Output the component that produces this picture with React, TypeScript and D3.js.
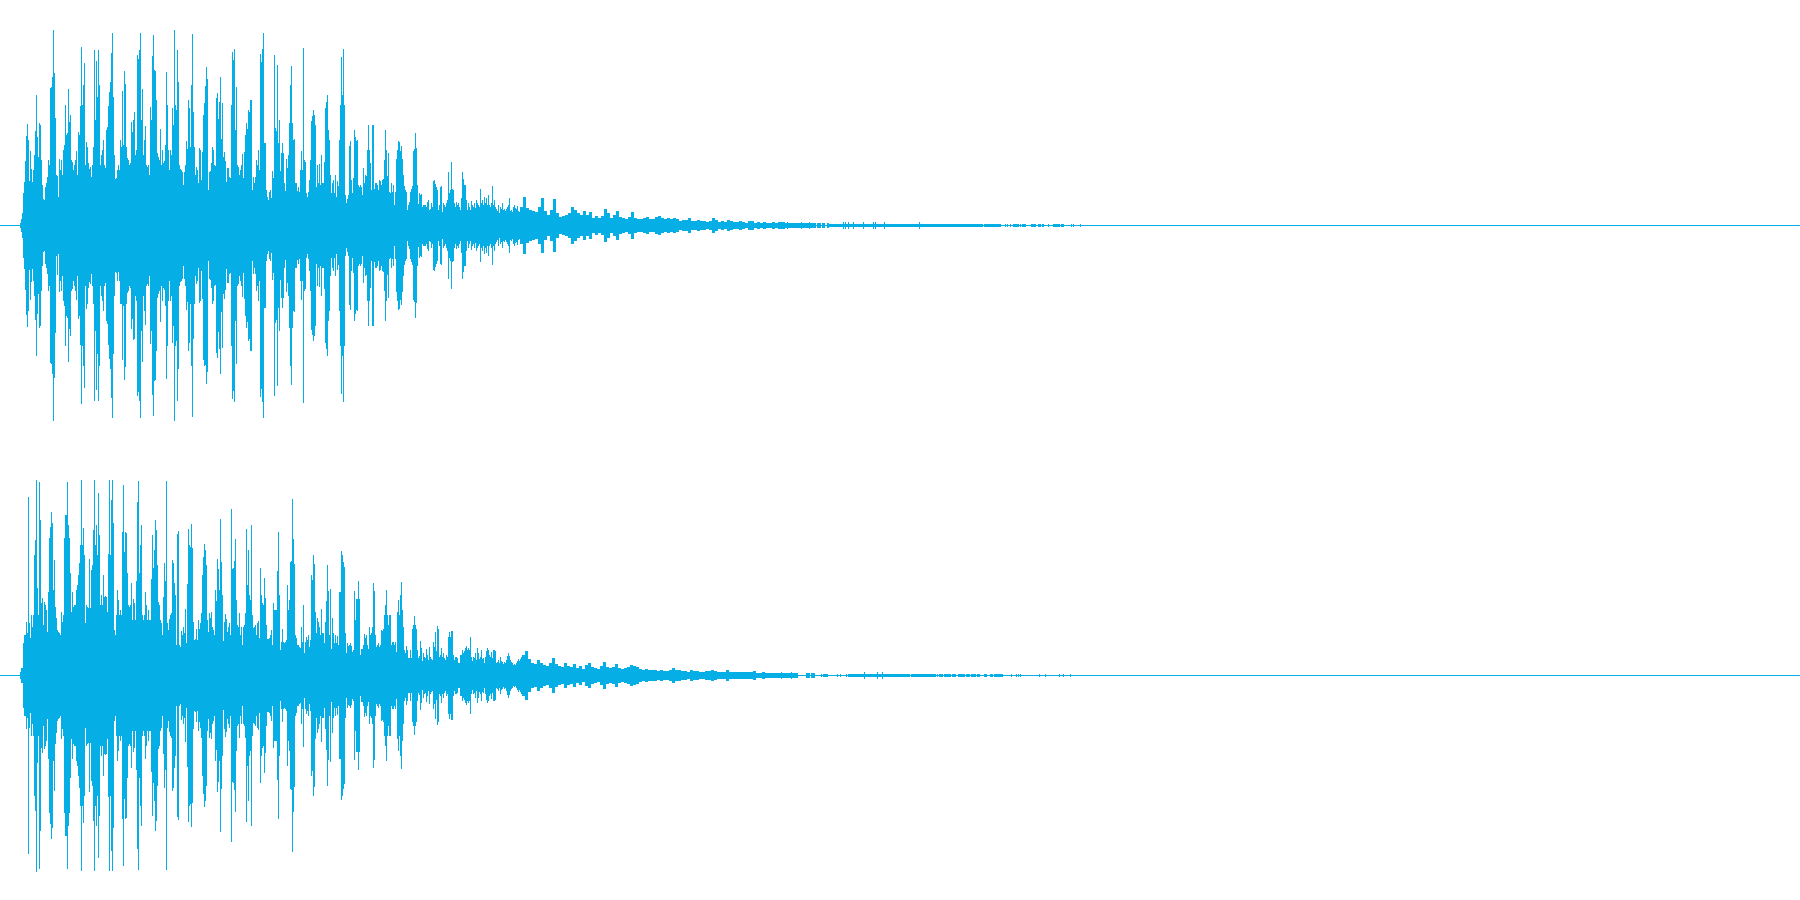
import React from "react";
import * as d3 from "d3";

const WIDTH = 1800;
const HEIGHT = 900;
const COLOR = "#06aee6";
const FIRST_BIN = 20;
const TAIL_BIN_CH1 = 520;
const TAIL_BIN_CH2 = 522;
const TAIL_STEP = 3;

const ch1Amp = [
  2,6,12,32,43,64,89,101,85,44,
  74,56,43,55,70,94,130,88,68,102,
  100,65,40,26,25,38,42,48,65,60,
  137,138,148,195,152,107,50,49,28,66,
  55,65,50,75,80,120,90,92,136,103,
  110,65,63,55,60,65,74,50,93,90,
  119,178,120,140,162,60,83,78,62,56,
  58,48,60,78,175,105,164,128,175,140,
  60,70,75,85,60,57,95,98,119,133,
  143,172,192,128,70,46,47,55,60,55,
  85,78,134,80,154,141,78,67,65,60,
  62,103,93,105,113,70,75,170,166,175,
  192,105,136,70,85,99,60,58,60,50,
  118,105,169,190,155,154,125,72,68,65,
  96,60,75,62,64,80,153,120,75,55,
  75,70,117,100,195,120,115,175,143,60,
  56,55,53,40,53,60,84,76,125,117,
  78,140,191,113,78,50,58,55,42,77,
  75,45,73,110,122,139,158,146,35,53,
  54,62,78,75,60,59,127,132,106,123,
  148,86,122,68,73,64,43,57,57,48,
  47,120,173,165,176,95,138,60,58,50,
  55,60,71,47,73,90,102,96,115,113,
  125,125,35,48,42,48,65,60,75,55,
  171,163,176,192,82,82,35,28,25,33,
  35,27,54,47,170,97,94,160,82,105,
  54,72,82,72,42,34,66,57,70,102,
  140,159,102,85,86,42,42,34,38,33,
  55,74,55,177,65,63,32,28,33,45,
  65,104,109,115,110,100,38,60,42,61,
  40,70,42,42,63,117,123,130,95,85,
  50,32,42,45,32,50,28,44,39,85,
  120,168,130,176,120,30,22,26,30,79,
  84,45,32,47,95,88,84,85,40,38,
  40,38,30,57,42,50,49,75,100,75,
  62,35,100,100,36,42,42,40,35,45,
  44,40,45,46,65,95,75,49,72,33,
  32,42,33,40,20,33,66,75,84,83,
  74,79,66,50,39,35,33,15,20,23,
  33,36,39,74,76,92,77,40,21,32,
  30,31,18,20,20,20,18,23,25,15,
  16,22,18,44,45,41,38,35,15,20,
  38,39,13,22,20,18,22,25,53,32,
  35,63,36,35,22,18,23,20,22,18,
  15,27,53,46,40,40,25,15,22,18,
  15,24,20,18,22,17,25,22,20,18,
  36,22,25,20,28,22,27,20,30,20,
  18,22,39,20,25,18,16,14,20,12,
  18,16,22,15,16,14,16,18,20,27,
  14,15,13,18,20,17,16,19,14,13,
];

const ch1Tail = [
  18,28,17,15,14,13,18,27,14,10,15,26,12,8,9,10,12,18,15,12,10,14,10,13,7,9,7,9,16,12,
  7,10,14,8,7,6,8,13,7,6,6,7,8,6,6,8,9,7,6,7,6,7,6,4,5,5,7,4,4,5,
  4,4,3,4,7,5,3,4,3,5,4,3,3,4,3,2,4,4,2,3,2,3,2,2,3,2,3,3,2,2,2,2,2,2,
];

const ch1LowOverride = [[56,30],[118,46],[120,78],[133,114],[203,134],[204,140],[220,148]];

const ch1Runs = [
  [802,815,2],[817,820,2],[822,824,2],[827,828,2],[827,962,1],
  [963,979,1],[980,982,1],[984,994,1],[995,999,1],[1000,1000,1],[1005,1005,1],[1007,1007,1],
  [1010,1010,1],[1013,1017,1],[1018,1018,1],[1020,1020,1],[1022,1025,1],[1031,1035,1],
  [1038,1040,1],[1042,1042,1],[1043,1043,1],[1048,1048,1],[1053,1055,1],[1056,1059,1],
  [1061,1063,1],[1071,1071,1],[1073,1073,1],[1080,1080,1],
];

const ch1Stubs = [781,784,787,801,809,843,845,848,853,863,873,875,884,919];

const ch2Amp = [
  3,7,7,32,40,40,53,42,178,52,
  37,60,48,60,120,135,195,87,60,193,
  155,72,77,50,73,70,65,43,83,137,
  148,163,152,85,115,68,57,45,43,42,
  40,63,53,60,137,160,160,193,150,137,
  102,63,83,68,70,70,85,90,100,112,
  130,195,130,147,120,52,70,68,67,116,
  67,105,110,145,195,130,150,120,182,140,
  70,80,70,100,78,79,78,63,121,195,
  120,175,195,152,45,40,60,85,75,60,
  65,60,143,190,123,143,142,102,70,68,
  70,92,55,76,72,55,94,173,194,102,
  130,150,60,55,60,83,70,55,65,55,
  55,96,140,107,125,155,145,110,73,70,
  55,52,40,78,112,94,194,52,45,56,
  60,62,115,112,92,80,30,141,144,30,
  28,44,40,48,42,66,32,91,146,130,
  128,151,127,53,35,36,46,35,55,46,
  52,62,100,118,131,125,110,55,43,62,
  57,63,48,45,40,85,74,116,106,85,
  156,113,80,34,53,61,56,43,48,52,
  40,166,106,107,114,136,75,50,48,62,
  40,48,30,48,50,62,146,90,125,80,
  75,150,60,47,48,50,40,52,54,37,
  107,80,72,70,97,77,50,36,36,37,
  40,45,30,72,65,65,65,104,143,80,
  25,33,46,33,32,33,35,90,65,75,
  113,114,176,136,111,40,37,30,30,28,
  27,48,33,70,22,33,38,35,40,28,
  35,100,95,120,111,63,42,57,53,48,
  40,66,42,42,32,53,74,110,84,40,
  86,26,57,42,32,40,32,39,30,83,
  83,124,120,113,108,42,22,32,29,30,
  32,29,23,25,84,55,76,76,94,76,
  20,26,26,30,41,37,40,30,26,48,
  40,42,48,92,84,40,28,30,32,28,
  30,45,44,46,60,70,85,60,50,60,
  60,30,33,33,30,33,23,63,75,60,
  80,93,65,48,25,22,29,25,17,17,
  25,17,46,50,59,50,46,25,17,19,
  34,27,14,22,18,17,26,20,15,28,
  18,16,15,33,28,43,24,49,46,18,
  20,27,18,22,17,15,20,18,38,43,
  38,44,44,20,15,18,18,17,12,12,
  20,20,25,22,24,27,29,25,27,25,
  38,18,14,18,17,22,15,27,22,16,
  18,25,16,17,12,18,24,27,25,20,
  18,23,17,25,25,24,12,13,15,12,
  18,14,13,11,13,12,15,19,22,19,
  15,13,12,10,11,10,12,14,16,14,
  16,18,
];

const ch2Tail = [
  20,24,16,12,11,15,12,10,9,12,17,11,9,8,12,9,8,11,7,9,6,10,12,8,7,6,
  9,13,8,7,8,11,7,6,7,8,10,9,8,6,5,6,5,5,5,4,5,4,4,5,7,5,5,4,4,3,
  5,4,4,3,3,4,4,5,4,3,3,3,5,3,3,3,3,3,3,3,3,4,
  2,2,3,2,2,2,2,2,2,2,2,2,2,2,
];

const ch2LowOverride = [[303,71],[36,196],[23,32]];

const ch2Runs = [
  [806,809,2],[811,814,2],[821,821,1],[823,823,1],[824,827,1],[837,837,1],[840,840,1],
  [846,846,1],[848,848,1],[849,908,1],[909,909,1],[911,914,1],[915,935,1],[937,937,1],
  [939,942,1],[944,950,1],[952,955,1],[958,964,1],[966,969,1],[971,975,1],[977,979,1],
  [984,986,1],[990,992,1],[994,994,1],[995,997,1],[998,1002,1],[1011,1011,1],[1016,1016,1],
  [1018,1018,1],[1020,1020,1],[1039,1039,1],[1045,1045,1],[1059,1059,1],[1063,1063,1],[1070,1070,1],
];

const ch2Stubs = [781,791,864,877,882];

type Col = { bin: number; width: number; up: number; down: number };

function buildColumns(
  amp: number[], tail: number[], tailStart: number, low: number[][], runs: number[][], stubs: number[],
): Col[] {
  const lowMap = new Map(low.map(([b, v]) => [b, v]));
  const cols: Col[] = [];
  amp.forEach((a, i) => {
    const bin = FIRST_BIN + i;
    cols.push({ bin, width: 1, up: a, down: lowMap.get(bin) ?? a });
  });
  tail.forEach((a, i) => {
    cols.push({ bin: tailStart + i * TAIL_STEP, width: TAIL_STEP, up: a, down: a });
  });
  runs.forEach(([s, e, a]) => cols.push({ bin: s, width: e - s + 1, up: a, down: a }));
  stubs.forEach((b) => cols.push({ bin: b, width: 1, up: 3, down: 3 }));
  return cols;
}

const channels = [
  { center: 225, cols: buildColumns(ch1Amp, ch1Tail, TAIL_BIN_CH1, ch1LowOverride, ch1Runs, ch1Stubs) },
  { center: 675, cols: buildColumns(ch2Amp, ch2Tail, TAIL_BIN_CH2, ch2LowOverride, ch2Runs, ch2Stubs) },
];

export default function App() {
  const x = d3.scaleLinear().domain([0, WIDTH]).range([0, WIDTH]);
  return (
    <svg
      width={WIDTH}
      height={HEIGHT}
      viewBox={`0 0 ${WIDTH} ${HEIGHT}`}
      shapeRendering="crispEdges"
      style={{ position: "absolute", left: 0, top: 0, background: "#fff", display: "block" }}
    >
      {channels.map((ch, k) => {
        const y = d3.scaleLinear().domain([-196, 196]).range([ch.center + 197, ch.center - 196]);
        const path = d3.path();
        ch.cols.forEach((c) => {
          const top = y(c.up);
          path.rect(x(c.bin), top, x(c.bin + c.width) - x(c.bin), y(-c.down) - top);
        });
        return (
          <g key={k} fill={COLOR}>
            <rect x={x(0)} y={ch.center} width={x(WIDTH) - x(0)} height={1} />
            <path d={path.toString()} />
          </g>
        );
      })}
    </svg>
  );
}
